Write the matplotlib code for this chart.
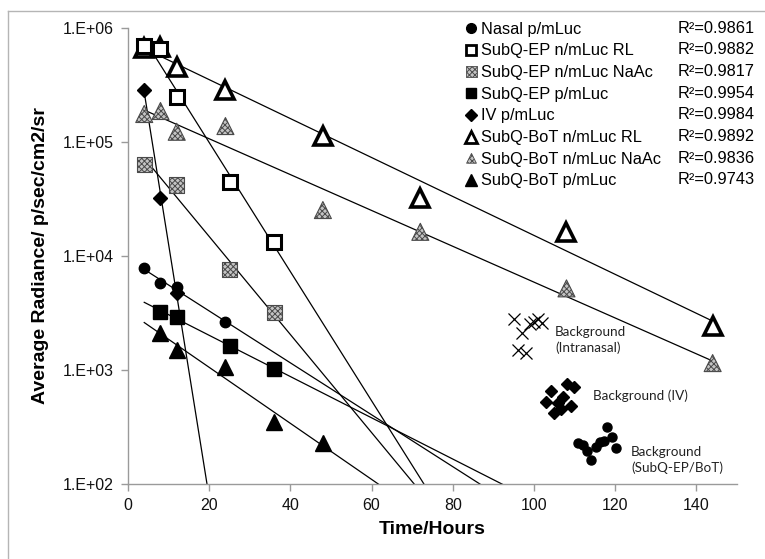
import numpy as np
import matplotlib
matplotlib.use("Agg")
import matplotlib.pyplot as plt

plt.rcParams['font.family'] = ['Liberation Sans', 'DejaVu Sans']
plt.rcParams['hatch.linewidth'] = 0.7

# ---------------- data ----------------
nasal_t = [4, 8, 12, 24]
nasal_v = [7800, 5760, 5300, 2650]
ep_rl_t = [4, 8, 12, 25, 36]
ep_rl_v = [690000, 655000, 248000, 45000, 13300]
ep_naac_t = [4, 12, 25, 36]
ep_naac_v = [63600, 42000, 7600, 3200]
ep_p_t = [8, 12, 25, 36]
ep_p_v = [3200, 2940, 1630, 1030]
iv_t = [4, 8, 12]
iv_v = [286000, 32000, 4770]
bot_rl_t = [4, 8, 12, 24, 48, 72, 108, 144]
bot_rl_v = [670000, 685000, 458000, 286000, 113000, 32000, 16300, 2430]
bot_naac_t = [4, 8, 12, 24, 48, 72, 108, 144]
bot_naac_v = [176000, 187000, 123000, 138000, 25300, 16300, 5200, 1150]
bot_p_t = [8, 12, 24, 36, 48]
bot_p_v = [2100, 1500, 1060, 352, 228]

bg_in_t = [95.1, 97.1, 99.0, 100.1, 101.1, 101.9, 96.1, 98.0]
bg_in_v = [2790, 2100, 2540, 2650, 2800, 2600, 1500, 1400]
bg_iv_t = [104.1, 108.1, 109.9, 103.0, 105.9, 107.2, 109.0, 104.9, 106.7]
bg_iv_v = [660, 750, 705, 527, 514, 580, 483, 417, 455]
bg_sc_t = [110.8, 112.1, 113.1, 114.1, 115.2, 116.3, 117.3, 118.1, 119.2, 120.1]
bg_sc_v = [228, 220, 196, 163, 212, 235, 240, 314, 257, 209]

series_names = ["Nasal p/mLuc", "SubQ-EP n/mLuc RL", "SubQ-EP n/mLuc NaAc",
                "SubQ-EP p/mLuc", "IV p/mLuc", "SubQ-BoT n/mLuc RL",
                "SubQ-BoT n/mLuc NaAc", "SubQ-BoT p/mLuc"]
r2_labels = ["R\u00b2=0.9861", "R\u00b2=0.9882", "R\u00b2=0.9817", "R\u00b2=0.9954",
             "R\u00b2=0.9984", "R\u00b2=0.9892", "R\u00b2=0.9836", "R\u00b2=0.9743"]
ytick_vals = [1e2, 1e3, 1e4, 1e5, 1e6]
ytick_labels = ["1.E+02", "1.E+03", "1.E+04", "1.E+05", "1.E+06"]
xtick_vals = [0, 20, 40, 60, 80, 100, 120, 140]

W, H = 765, 559
fig = plt.figure(figsize=(W / 100, H / 100), dpi=100)
L, R, T, B = 128, 737, 28, 484
ax = fig.add_axes([L / W, 1 - B / H, (R - L) / W, (B - T) / H])
ax.set_yscale('log')
ax.set_xlim(0, 150)
ax.set_ylim(100, 1e6)

# trend lines (exponential fits)
trend_x = np.linspace(4, 144, 300)
for t, v in [(nasal_t, nasal_v), (ep_rl_t, ep_rl_v), (ep_naac_t, ep_naac_v),
             (ep_p_t, ep_p_v), (iv_t, iv_v), (bot_rl_t, bot_rl_v),
             (bot_naac_t, bot_naac_v), (bot_p_t, bot_p_v)]:
    k, c = np.polyfit(np.array(t, float), np.log(np.array(v, float)), 1)
    ax.plot(trend_x, np.exp(c + k * trend_x), color='black', lw=0.9, zorder=2)

HATCH_FACE = '#c4c4c4'
HATCH_EDGE = '#4a4a4a'

# data markers
ax.plot(bot_rl_t, bot_rl_v, ls='none', marker='^', ms=12.5, mfc='white', mec='black', mew=2.6, zorder=4)
ax.plot(ep_rl_t, ep_rl_v, ls='none', marker='s', ms=10.5, mfc='white', mec='black', mew=2.2, zorder=4)
ax.scatter(bot_naac_t, bot_naac_v, marker='^', s=150, facecolor=HATCH_FACE, edgecolor=HATCH_EDGE,
           hatch='xxxxxx', linewidth=0.8, zorder=4)
ax.scatter(ep_naac_t, ep_naac_v, marker='s', s=120, facecolor=HATCH_FACE, edgecolor=HATCH_EDGE,
           hatch='xxxxxx', linewidth=0.8, zorder=4)
ax.plot(ep_p_t, ep_p_v, ls='none', marker='s', ms=9.5, color='black', zorder=4)
ax.plot(bot_p_t, bot_p_v, ls='none', marker='^', ms=11, color='black', zorder=4)
ax.plot(nasal_t, nasal_v, ls='none', marker='o', ms=7.5, color='black', zorder=4)
ax.plot(iv_t, iv_v, ls='none', marker='D', ms=7, color='black', zorder=4)

# background points
ax.plot(bg_in_t, bg_in_v, ls='none', marker='x', ms=8.5, mew=0.9, color='black', zorder=4)
ax.plot(bg_iv_t, bg_iv_v, ls='none', marker='D', ms=6.5, color='black', zorder=4)
ax.plot(bg_sc_t, bg_sc_v, ls='none', marker='o', ms=6.5, color='black', zorder=4)

# axes styling
for s in ['top', 'right']:
    ax.spines[s].set_visible(False)
for s in ['left', 'bottom']:
    ax.spines[s].set_color('#9a9a9a')
    ax.spines[s].set_linewidth(1.0)
ax.set_yticks(ytick_vals)
ax.set_yticklabels(ytick_labels)
ax.yaxis.set_minor_locator(matplotlib.ticker.NullLocator())
ax.set_xticks(xtick_vals)
ax.set_xticklabels([str(x) for x in xtick_vals])
ax.tick_params(axis='both', direction='out', length=5, width=1, color='#9a9a9a',
               labelsize=11.5, labelcolor='#111111', pad=5)
ax.set_xlabel("Time/Hours", fontsize=14, fontweight='bold', labelpad=6)
ax.set_ylabel("Average Radiance/ p/sec/cm2/sr", fontsize=14, fontweight='bold', labelpad=10)
ax.set_facecolor('none')

# overlay in pixel coordinates for legend, notes and border
ov = fig.add_axes([0, 0, 1, 1], zorder=5)
ov.set_xlim(0, W)
ov.set_ylim(H, 0)
ov.axis('off')
ov.patch.set_alpha(0)

ov.plot([8, 8], [11, H], color='#b5b5b5', lw=1)
ov.plot([8, W], [11, 11], color='#b5b5b5', lw=1)

row_y = [28.3 + 21.67 * i for i in range(8)]
mx, tx, rx = 471.5, 481, 755
ov.plot(mx, row_y[0], marker='o', ms=7, color='black', ls='none')
ov.plot(mx, row_y[1], marker='s', ms=7, mfc='white', mec='black', mew=2, ls='none')
ov.scatter([mx], [row_y[2]], marker='s', s=55, facecolor=HATCH_FACE, edgecolor=HATCH_EDGE,
           hatch='xxxxxx', linewidth=0.6)
ov.plot(mx, row_y[3], marker='s', ms=7.5, color='black', ls='none')
ov.plot(mx, row_y[4], marker='D', ms=6.5, color='black', ls='none')
ov.plot(mx, row_y[5] + 0.5, marker='^', ms=8, mfc='white', mec='black', mew=2, ls='none')
ov.scatter([mx], [row_y[6]], marker='^', s=50, facecolor=HATCH_FACE, edgecolor=HATCH_EDGE,
           hatch='xxxxxx', linewidth=0.6)
ov.plot(mx, row_y[7], marker='^', ms=8.5, color='black', ls='none')
for y, name, r2 in zip(row_y, series_names, r2_labels):
    ov.text(tx, y + 1, name, fontsize=11.8, va='center', ha='left', color='black')
    ov.text(rx, y, r2, fontsize=11.8, va='center', ha='right', color='black')

note_font = ['Lato', 'DejaVu Sans']
ov.text(555, 340, "Background\n(Intranasal)", family=note_font, fontsize=9.7,
        va='center', ha='left', color='#222222', linespacing=1.25)
ov.text(593, 396, "Background (IV)", family=note_font, fontsize=9.7,
        va='center', ha='left', color='#222222')
ov.text(631, 460, "Background\n(SubQ-EP/BoT)", family=note_font, fontsize=9.7,
        va='center', ha='left', color='#222222', linespacing=1.25)

fig.savefig("out.png", dpi=100)
